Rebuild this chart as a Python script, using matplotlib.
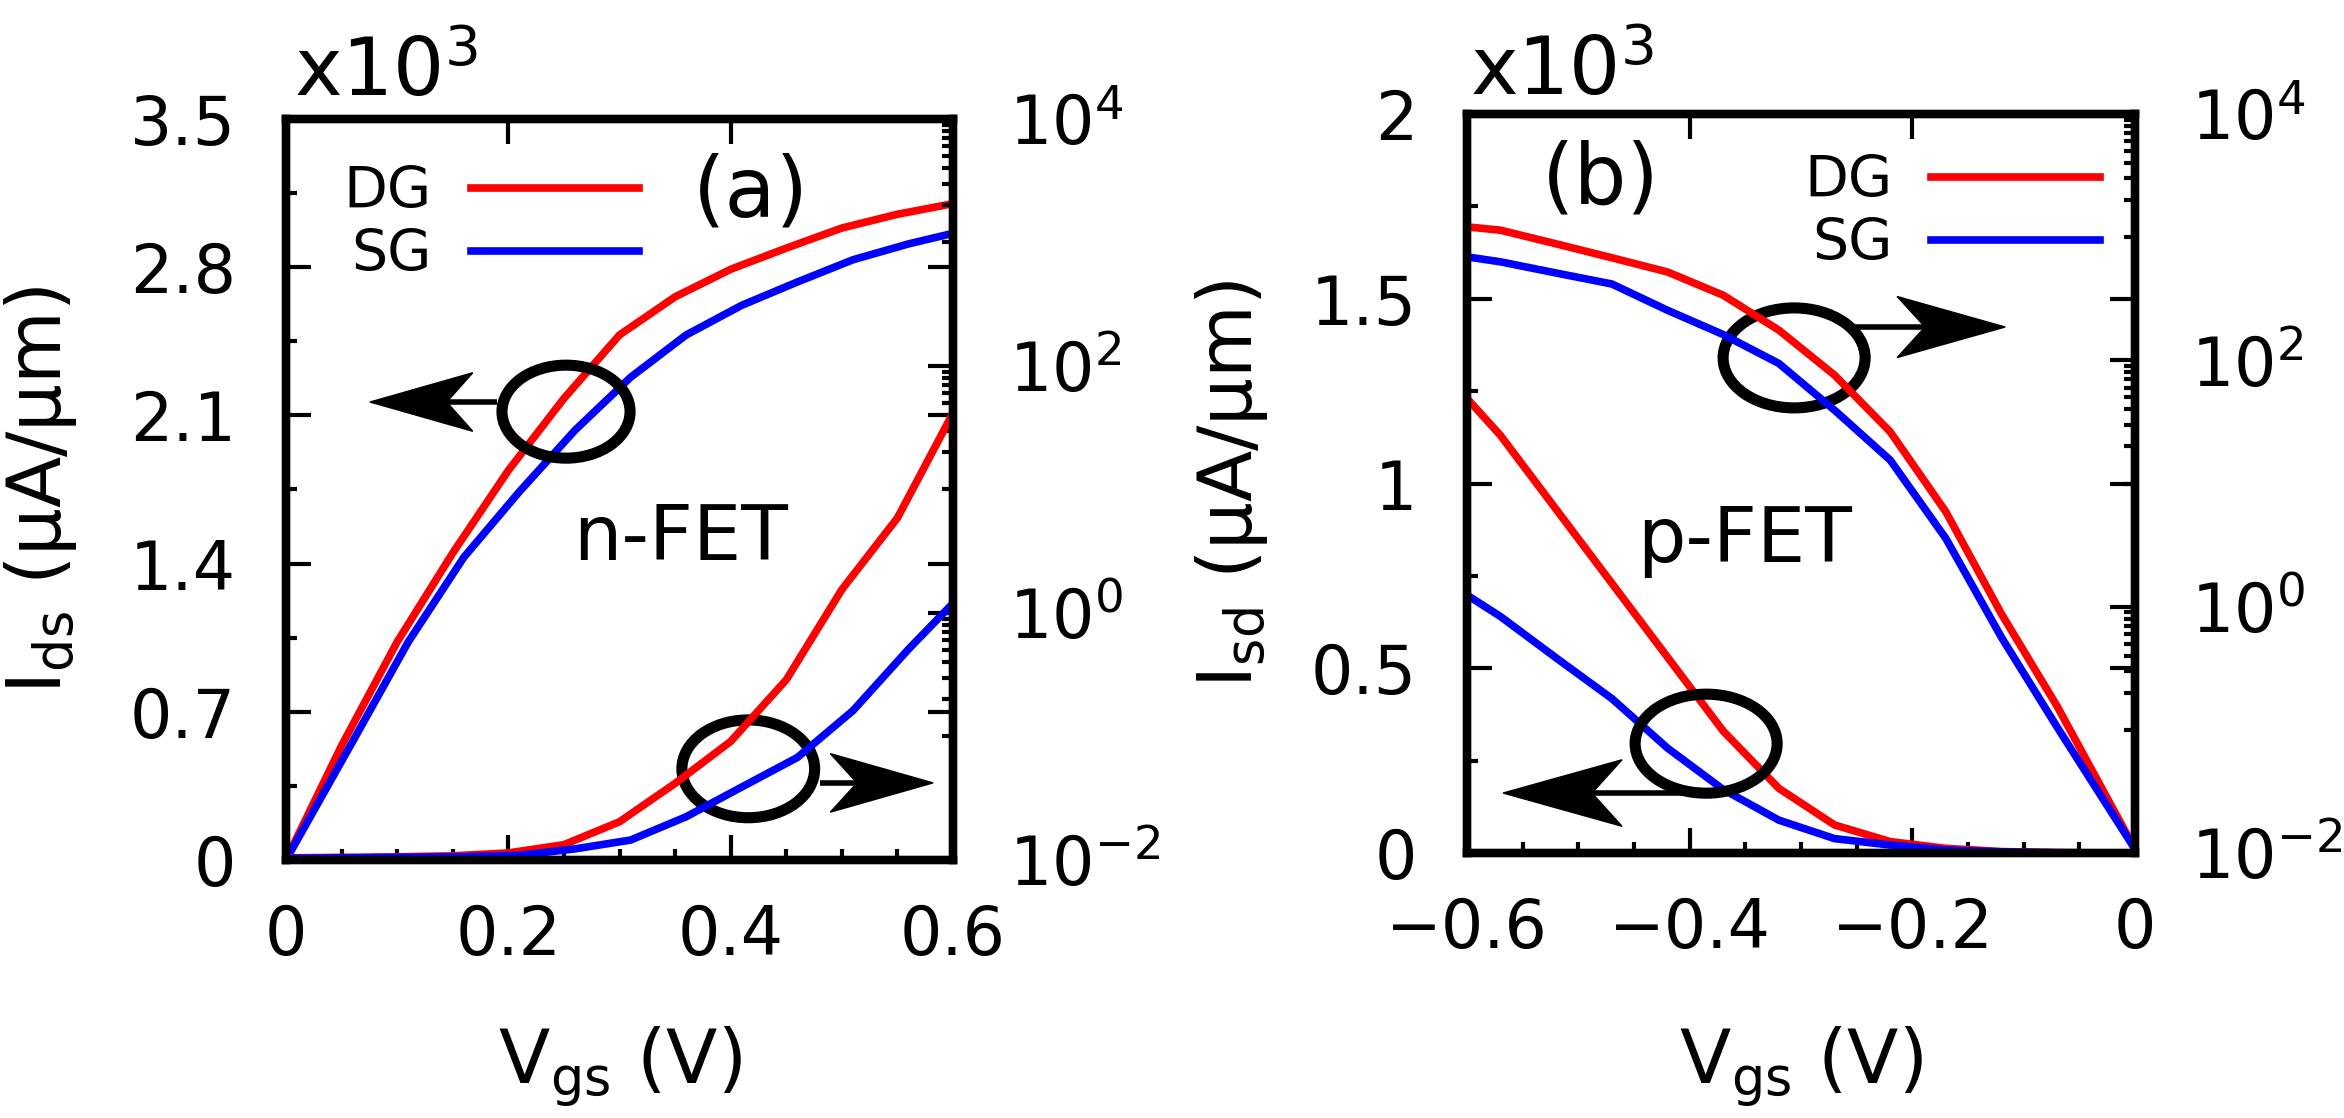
import matplotlib
matplotlib.use('Agg')
import matplotlib.pyplot as plt
from matplotlib.patches import Ellipse, Polygon
from matplotlib.ticker import FixedLocator, NullFormatter
import numpy as np

plt.rcParams['font.family'] = 'DejaVu Sans'
plt.rcParams['mathtext.fontset'] = 'dejavusans'
plt.rcParams['mathtext.default'] = 'regular'

# ---- (a) n-FET : Vgs (V), Ids (uA/um); linear axis in units of 1e3
vgs_n_dg = [0.0, 0.05, 0.10, 0.15, 0.20, 0.25, 0.30, 0.35, 0.40, 0.45, 0.50, 0.55, 0.60]
vgs_n_sg = [0.0, 0.06, 0.11, 0.16, 0.21, 0.26, 0.31, 0.36, 0.41, 0.46, 0.51, 0.56, 0.60]
ids_n_dg_lin = [0.0, 0.54, 1.03, 1.45, 1.84, 2.18, 2.48, 2.66, 2.79, 2.89, 2.985, 3.05, 3.10]
ids_n_sg_lin = [0.0, 0.56, 1.03, 1.43, 1.74, 2.03, 2.28, 2.48, 2.62, 2.73, 2.835, 2.91, 2.96]
ids_n_dg_log = [0.0104, 0.0105, 0.0106, 0.0108, 0.0114, 0.0133, 0.0204, 0.0417, 0.0912,
                0.288, 1.55, 5.89, 41.7]
ids_n_sg_log = [0.0103, 0.0104, 0.0105, 0.0106, 0.0109, 0.0123, 0.0145, 0.0224, 0.039,
                0.0676, 0.162, 0.51, 1.2]

# ---- (b) p-FET : Vgs (V), Isd (uA/um)
vgs_p = [-0.60, -0.57, -0.52, -0.47, -0.42, -0.37, -0.32, -0.27, -0.22, -0.17, -0.12, -0.07, 0.0]
isd_p_dg_lin = [1.23, 1.13, 0.93, 0.73, 0.53, 0.33, 0.175, 0.076, 0.031, 0.0126, 0.004, 0.001, 0.0]
isd_p_sg_lin = [0.698, 0.64, 0.528, 0.418, 0.284, 0.172, 0.089, 0.039, 0.0216, 0.008, 0.003, 0.001, 0.0]
isd_p_dg_log = [1213, 1140, 883, 681, 522, 338, 176, 75.9, 26.3, 5.89, 0.871, 0.155, 0.0107]
isd_p_sg_log = [692, 631, 512, 417, 255, 162, 94.4, 39.4, 15.5, 3.58, 0.562, 0.105, 0.0107]

# tick values / labels
xt_n = [0, 0.2, 0.4, 0.6]
xt_n_lab = ['0', '0.2', '0.4', '0.6']
xt_p = [-0.6, -0.4, -0.2, 0]
xt_p_lab = ['\u22120.6', '\u22120.4', '\u22120.2', '0']
yt_n = [0, 0.7, 1.4, 2.1, 2.8, 3.5]
yt_n_lab = ['0', '0.7', '1.4', '2.1', '2.8', '3.5']
yt_p = [0, 0.5, 1, 1.5, 2]
yt_p_lab = ['0', '0.5', '1', '1.5', '2']
log_major = [1e-2, 1e0, 1e2, 1e4]
log_lab = ['$10^{-2}$', '$10^{0}$', '$10^{2}$', '$10^{4}$']
log_minor = [b * 10 * k for b in [1e-2, 1e0, 1e2] for k in range(1, 10)]

tick_fnt = 48
label_fnt = 54
leg_fnt = 41
curve_lw = 5.5
spine_lw = 6
ell_lw = 8


def notched_arrow(ax, x_tail, x_tip, y, head_len, half_w, notch):
    s = np.sign(x_tip - x_tail)
    x_back = x_tip - s * head_len
    x_notch = x_tip - s * notch
    ax.plot([x_tail, x_notch], [y, y], transform=ax.transAxes, color='k', lw=4,
            solid_capstyle='butt', clip_on=False)
    head = Polygon([(x_tip, y), (x_back, y + half_w), (x_notch, y), (x_back, y - half_w)],
                   closed=True, transform=ax.transAxes, fc='k', ec='k', lw=1)
    ax.add_patch(head)


def style_axes(ax, ax2, xt, xt_lab, yt, yt_lab, xminor, yminor):
    ax.set_xticks(xt)
    ax.set_xticklabels(xt_lab)
    ax.xaxis.set_minor_locator(FixedLocator(xminor))
    ax.set_yticks(yt)
    ax.set_yticklabels(yt_lab)
    ax.yaxis.set_minor_locator(FixedLocator(yminor))
    ax.tick_params(axis='both', which='both', direction='in', width=3, color='k')
    ax.tick_params(which='major', length=18)
    ax.tick_params(which='minor', length=8)
    ax.tick_params(axis='x', top=True, bottom=True, labelsize=tick_fnt, pad=31)
    ax.tick_params(axis='y', left=True, right=True, labelright=False, labelsize=tick_fnt, pad=36)

    ax2.set_yscale('log')
    ax2.yaxis.set_major_locator(FixedLocator(log_major))
    ax2.set_yticklabels(log_lab)
    ax2.yaxis.set_minor_locator(FixedLocator(log_minor))
    ax2.yaxis.set_minor_formatter(NullFormatter())
    ax2.tick_params(axis='y', which='both', direction='in', width=3, left=False, right=True,
                    labelsize=tick_fnt, pad=40)
    ax2.tick_params(axis='y', which='major', length=18)
    ax2.tick_params(axis='y', which='minor', length=8)
    ax2.set_ylim(1e-2, 1e4)
    for a in (ax, ax2):
        for sp in a.spines.values():
            sp.set_linewidth(spine_lw)


fig = plt.figure(figsize=(23.44, 11.18), dpi=100)

# ---------------- (a) n-FET
ax = fig.add_axes([0.1220, 0.2308, 0.2846, 0.6628])
ax2 = ax.twinx()
l1, = ax.plot(vgs_n_dg, ids_n_dg_lin, color='#ff0000', lw=curve_lw, label='DG')
l2, = ax.plot(vgs_n_sg, ids_n_sg_lin, color='#0000ff', lw=curve_lw, label='SG')
ax2.plot(vgs_n_dg, ids_n_dg_log, color='#ff0000', lw=curve_lw)
ax2.plot(vgs_n_sg, ids_n_sg_log, color='#0000ff', lw=curve_lw)
ax.set_xlim(0, 0.6)
ax.set_ylim(0, 3.5)
style_axes(ax, ax2, xt_n, xt_n_lab, yt_n, yt_n_lab,
           np.arange(0, 0.601, 0.05), np.arange(0, 3.51, 0.35))
ax.set_xlabel('V$_{gs}$ (V)', fontsize=label_fnt)
ax.xaxis.set_label_coords(0.5, -0.222)
ax.set_ylabel('I$_{ds}$ (\u03bcA/\u03bcm)', fontsize=label_fnt)
ax.yaxis.set_label_coords(-0.31, 0.5)
ax.legend(handles=[l1, l2], loc='center', bbox_to_anchor=(0.308, 0.858), frameon=False,
          markerfirst=False, handlelength=2.96, handletextpad=0.68, labelspacing=0.14,
          fontsize=leg_fnt, borderpad=0, borderaxespad=0)
ax2.text(0.012, 1.031, 'x10$^{3}$', transform=ax2.transAxes, fontsize=58,
         ha='left', va='baseline')
ax2.text(0.610, 0.868, '(a)', transform=ax2.transAxes, fontsize=60, ha='left', va='baseline')
ax2.text(0.430, 0.405, 'n-FET', transform=ax2.transAxes, fontsize=55, ha='left', va='baseline')
ax2.add_patch(Ellipse((0.4198, 0.605), 0.192, 0.1255, transform=ax2.transAxes,
                      fill=False, ec='k', lw=ell_lw))
notched_arrow(ax2, 0.316, 0.126, 0.618, 0.154, 0.0395, 0.115)
ax2.add_patch(Ellipse((0.693, 0.123), 0.199, 0.132, transform=ax2.transAxes,
                      fill=False, ec='k', lw=ell_lw))
notched_arrow(ax2, 0.80, 0.970, 0.104, 0.154, 0.0395, 0.114)

# ---------------- (b) p-FET
bx = fig.add_axes([0.6259, 0.2370, 0.2850, 0.6610])
bx2 = bx.twinx()
m1, = bx.plot(vgs_p, isd_p_dg_lin, color='#ff0000', lw=curve_lw, label='DG')
m2, = bx.plot(vgs_p, isd_p_sg_lin, color='#0000ff', lw=curve_lw, label='SG')
bx2.plot(vgs_p, isd_p_dg_log, color='#ff0000', lw=curve_lw)
bx2.plot(vgs_p, isd_p_sg_log, color='#0000ff', lw=curve_lw)
bx.set_xlim(-0.6, 0)
bx.set_ylim(0, 2)
style_axes(bx, bx2, xt_p, xt_p_lab, yt_p, yt_p_lab,
           np.arange(-0.6, 0.001, 0.05), np.arange(0, 2.01, 0.25))
bx.set_xlabel('V$_{gs}$ (V)', fontsize=label_fnt)
bx.xaxis.set_label_coords(0.5, -0.232)
bx.set_ylabel('I$_{sd}$ (\u03bcA/\u03bcm)', fontsize=label_fnt)
bx.yaxis.set_label_coords(-0.295, 0.5)
bx.legend(handles=[m1, m2], loc='center', bbox_to_anchor=(0.726, 0.866), frameon=False,
          markerfirst=False, handlelength=2.96, handletextpad=0.68, labelspacing=0.14,
          fontsize=leg_fnt, borderpad=0, borderaxespad=0)
bx2.text(0.005, 1.026, 'x10$^{3}$', transform=bx2.transAxes, fontsize=58,
         ha='left', va='baseline')
bx2.text(0.112, 0.879, '(b)', transform=bx2.transAxes, fontsize=60, ha='left', va='baseline')
bx2.text(0.2545, 0.394, 'p-FET', transform=bx2.transAxes, fontsize=55, ha='left', va='baseline')
bx2.add_patch(Ellipse((0.4895, 0.670), 0.2126, 0.1353, transform=bx2.transAxes,
                      fill=False, ec='k', lw=ell_lw))
notched_arrow(bx2, 0.578, 0.8054, 0.7118, 0.1617, 0.0413, 0.12)
bx2.add_patch(Ellipse((0.3578, 0.148), 0.2126, 0.134, transform=bx2.transAxes,
                      fill=False, ec='k', lw=ell_lw))
notched_arrow(bx2, 0.323, 0.0539, 0.0812, 0.178, 0.045, 0.133)

fig.savefig('out.png', dpi=100)
plt.close(fig)
